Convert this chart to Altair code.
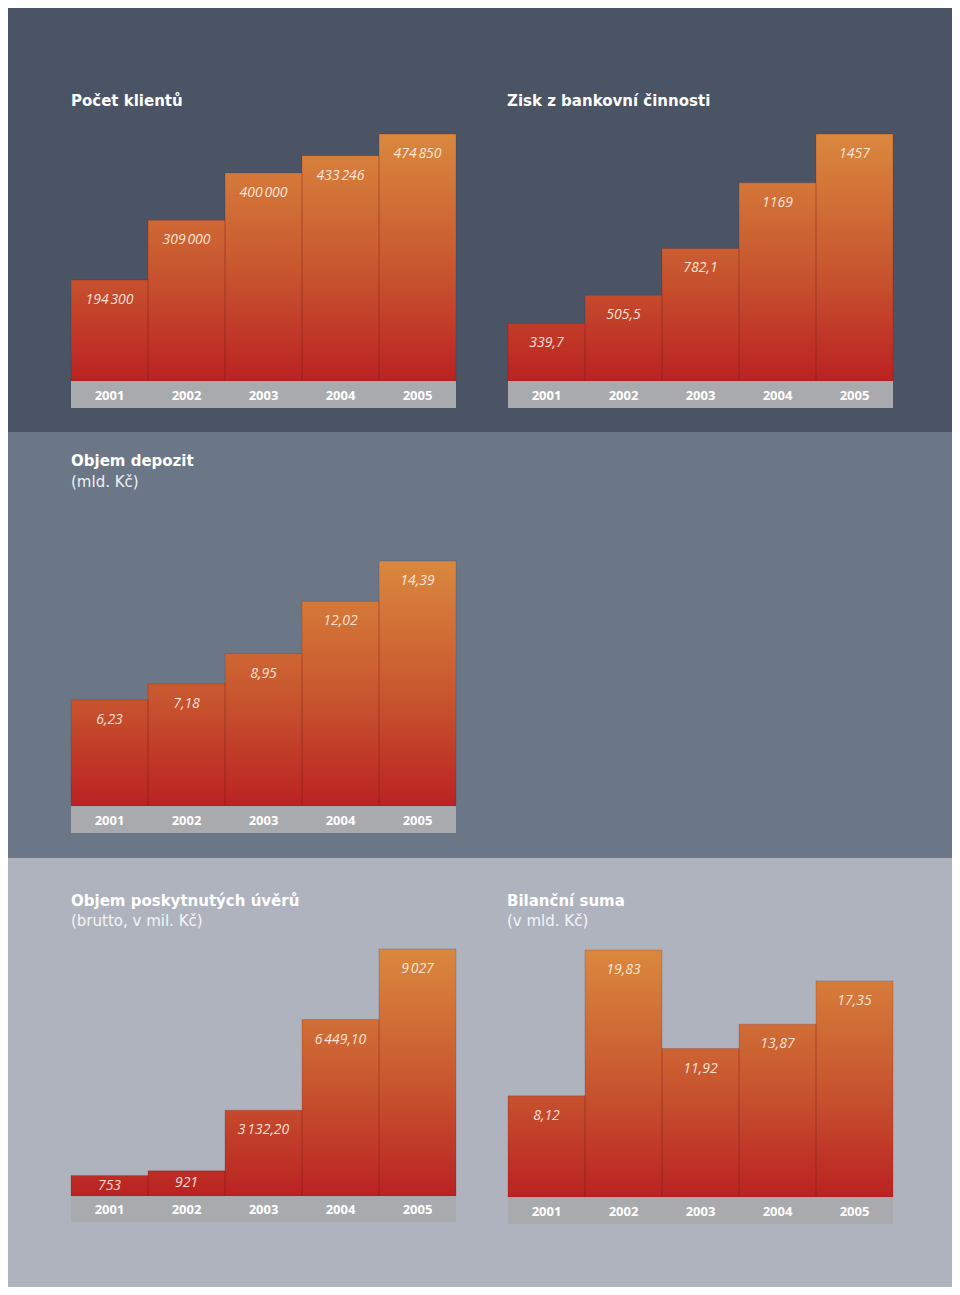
import altair as alt
import pandas as pd

# ---------------- data ----------------
years = ["2001", "2002", "2003", "2004", "2005"]

klienti = [194300, 309000, 400000, 433246, 474850]
klienti_lbl = ["194\u202f300", "309\u202f000", "400\u202f000", "433\u202f246", "474\u202f850"]

zisk = [339.7, 505.5, 782.1, 1169, 1457]
zisk_lbl = ["339,7", "505,5", "782,1", "1169", "1457"]

depozit = [6.23, 7.18, 8.95, 12.02, 14.39]
depozit_lbl = ["6,23", "7,18", "8,95", "12,02", "14,39"]

uvery = [753, 921, 3132.20, 6449.10, 9027]
uvery_lbl = ["753", "921", "3\u202f132,20", "6\u202f449,10", "9\u202f027"]

bilance = [8.12, 19.83, 11.92, 13.87, 17.35]
bilance_lbl = ["8,12", "19,83", "11,92", "13,87", "17,35"]

titles = ["Počet klientů", "Zisk z bankovní činnosti", "Objem depozit",
          "Objem poskytnutých úvěrů", "Bilanční suma"]
subtitles = ["(mld. Kč)", "(brutto, v mil. Kč)", "(v mld. Kč)"]

# ---------------- style ----------------
W, H = 944, 1279
BG1, BG2, BG3 = "#4A5464", "#6B7786", "#AEB3BE"
STRIP = "#A9AAAE"
grad = alt.Gradient(
    gradient="linear",
    stops=[alt.GradientStop(offset=0, color="#DA883E"),
           alt.GradientStop(offset=0.55, color="#C8562F"),
           alt.GradientStop(offset=1, color="#BA2222")],
    x1=0, x2=0, y1=0, y2=1,
)
one = pd.DataFrame({"a": [0]})


def band(y0, y1, color):
    return alt.Chart(one).mark_rect(fill=color).encode(
        x=alt.value(0), x2=alt.value(W), y=alt.value(y0), y2=alt.value(y1))


def text(t, x, y, bold=True, size=15, color="#FFFFFF"):
    return alt.Chart(one).mark_text(
        text=t, font="DejaVu Sans", fontSize=size,
        fontWeight="bold" if bold else "normal",
        align="left", baseline="middle", color=color,
    ).encode(x=alt.value(x), y=alt.value(y))


def panel(vals, labels, x0, base, top, strip_h, bg):
    vmax = max(vals)
    df = pd.DataFrame({"year": years, "v": vals, "lbl": labels, "top": [vmax] * len(vals)})
    xs = alt.Scale(domain=years, range=[x0, x0 + 385], paddingInner=0, paddingOuter=0)
    ys = alt.Scale(domain=[0, vmax], range=[base, top], nice=False, zero=True)
    X = alt.X("year:N", scale=xs, axis=None)
    c = alt.Chart(df)
    g = c.mark_bar(fill=grad).encode(
        x=X, y=alt.Y("top:Q", scale=ys, axis=None), y2=alt.datum(0))
    cover = c.mark_bar(fill=bg).encode(
        x=X, y=alt.Y("v:Q", scale=ys, axis=None), y2="top:Q")
    edges = c.mark_bar(fillOpacity=0, stroke="#6A1A12", strokeOpacity=0.2,
                       strokeWidth=1).encode(
        x=X, y=alt.Y("v:Q", scale=ys, axis=None), y2=alt.datum(0))
    strip = c.mark_bar(fill=STRIP).encode(
        x=X, y=alt.value(base), y2=alt.value(base + strip_h))
    yt = c.mark_text(font="Open Sans", fontWeight="bold", fontSize=13,
                     color="#FFFFFF", baseline="middle").encode(
        x=X, y=alt.value(base + strip_h / 2 + 1), text="year:N")
    lstyle = dict(font="Open Sans", fontStyle="italic", fontWeight="normal",
                  fontSize=14, color="#FFF2E4", opacity=0.9, baseline="middle")
    lt = c.transform_filter(f"datum.v >= {0.15 * vmax}").mark_text(
        dy=20, **lstyle).encode(
        x=X, y=alt.Y("v:Q", scale=ys, axis=None), text="lbl:N")
    lm = c.transform_filter(f"datum.v < {0.15 * vmax}").transform_calculate(
        half="datum.v / 2").mark_text(**lstyle).encode(
        x=X, y=alt.Y("half:Q", scale=ys, axis=None), text="lbl:N")
    return [g, cover, edges, strip, yt, lt, lm]


layers = [
    band(0, 424, BG1), band(424, 850, BG2), band(850, H, BG3),
]
layers += panel(klienti, klienti_lbl, 63, 373, 126, 27, BG1)
layers += panel(zisk, zisk_lbl, 500, 373, 126, 27, BG1)
layers += panel(depozit, depozit_lbl, 63, 798, 553, 27, BG2)
layers += panel(uvery, uvery_lbl, 63, 1188, 941, 26, BG3)
layers += panel(bilance, bilance_lbl, 500, 1189, 942, 27, BG3)

layers += [
    text(titles[0], 63, 93),
    text(titles[1], 499, 93),
    text(titles[2], 63, 453),
    text(subtitles[0], 63, 474, bold=False, color="#EEF0F3"),
    text(titles[3], 63, 893),
    text(subtitles[1], 63, 913, bold=False, color="#F4F5F7"),
    text(titles[4], 499, 893),
    text(subtitles[2], 499, 913, bold=False, color="#F4F5F7"),
]

chart = alt.layer(*layers).resolve_scale(
    x="independent", y="independent"
).properties(
    width=W, height=H, padding=0,
    autosize=alt.AutoSizeParams(type="none"),
    background="#FFFFFF",
).configure_view(stroke=None)

chart.save("out.html", embed_options={"renderer": "svg", "actions": False})
